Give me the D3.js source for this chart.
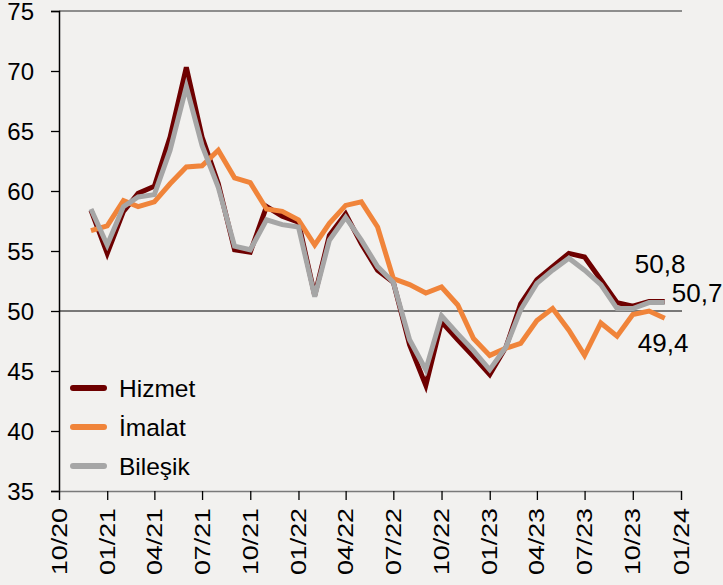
<!DOCTYPE html>
<html>
<head>
<meta charset="utf-8">
<script src="https://cdn.jsdelivr.net/npm/d3@7"></script>
<style>
  html, body { margin: 0; padding: 0; background: #F2F1EF; }
  svg { display: block; }
  text { font-family: "Liberation Sans", Arial, sans-serif; fill: #000; }
</style>
</head>
<body>
<svg id="chart" width="723" height="585"></svg>
<script>
// ---- Data (monthly, Dec 2020 – Dec 2023) ----
const startMonth = "2020-12";
const hizmet = [58.4, 54.8, 58.3, 59.8, 60.4, 64.5, 70.3, 64.5, 60.6, 55.1, 54.9, 58.7, 57.9,
                57.4, 51.3, 56.3, 58.1, 55.6, 53.4, 52.4, 47.2, 43.8, 49.1, 47.6, 46.2,
                44.7, 47.0, 50.6, 52.6, 53.7, 54.8, 54.5, 52.6, 50.7, 50.4, 50.8, 50.8];
const imalat = [56.7, 57.1, 59.2, 58.7, 59.1, 60.6, 62.0, 62.1, 63.4, 61.1, 60.7, 58.5, 58.3,
                57.6, 55.5, 57.3, 58.8, 59.1, 57.0, 52.7, 52.2, 51.5, 52.0, 50.5, 47.7,
                46.3, 46.9, 47.3, 49.2, 50.2, 48.4, 46.3, 49.0, 47.9, 49.7, 50.0, 49.4];
const bilesik = [58.5, 55.5, 58.7, 59.5, 59.7, 63.4, 68.7, 63.8, 60.3, 55.4, 55.1, 57.6, 57.2,
                 57.0, 51.2, 55.9, 57.8, 55.9, 53.7, 52.4, 47.6, 45.1, 49.6, 48.1, 46.7,
                 45.1, 47.0, 50.1, 52.3, 53.4, 54.4, 53.4, 52.2, 50.2, 50.2, 50.7, 50.7];
const seriesNames = ["Hizmet", "İmalat", "Bileşik"];
const yTicks = [35, 40, 45, 50, 55, 60, 65, 70, 75];
const xTickLabels = ["10/20","01/21","04/21","07/21","10/21","01/22","04/22","07/22","10/22","01/23","04/23","07/23","10/23","01/24"];
const endLabels = ["50,8", "50,7", "49,4"];

// ---- Layout ----
const svg = d3.select("#chart");
const plotL = 59, plotR = 681, plotT = 11, plotB = 491;
const colors = { "Hizmet": "#6E0000", "İmalat": "#F0843A", "Bileşik": "#A6A6A6" };

const parseM = d3.timeParse("%Y-%m");
const parseT = d3.timeParse("%m/%y");
const x = d3.scaleTime()
  .domain([parseT(xTickLabels[0]), parseT(xTickLabels[xTickLabels.length - 1])])
  .range([plotL, plotR]);
const y = d3.scaleLinear().domain([35, 75]).range([plotB, plotT]);

const start = parseM(startMonth);
const dates = hizmet.map((_, i) => d3.timeMonth.offset(start, i));

// top border line
svg.append("line").attr("x1", plotL).attr("x2", plotR + 1).attr("y1", y(75)).attr("y2", y(75))
  .attr("stroke", "#6d6d6d").attr("stroke-width", 1.3);
// 50 reference line
svg.append("line").attr("x1", plotL).attr("x2", plotR + 1).attr("y1", y(50)).attr("y2", y(50))
  .attr("stroke", "#000").attr("stroke-width", 1);

// Y axis
const yAxis = d3.axisLeft(y).tickValues(yTicks).tickSize(8).tickPadding(0).tickFormat(d3.format("d"));
const gy = svg.append("g").attr("transform", `translate(${plotL},0)`).call(yAxis);
gy.select(".domain").attr("stroke", "#000").attr("stroke-width", 1.5);
gy.selectAll(".tick line").attr("stroke", "#000").attr("stroke-width", 1.3);
gy.selectAll(".tick text").attr("x", -25).attr("dy", "0.36em")
  .style("font-size", "24px").attr("font-family", null).attr("text-anchor", "end").attr("fill", "#000");

// X axis
const xTickDates = xTickLabels.map(parseT);
const xAxis = d3.axisBottom(x).tickValues(xTickDates).tickSize(9).tickFormat((d, i) => xTickLabels[i]);
const gx = svg.append("g").attr("transform", `translate(0,${plotB})`).call(xAxis);
gx.select(".domain").attr("stroke", "#7a7a7a").attr("stroke-width", 1.3);
gx.selectAll(".tick line").attr("stroke", "#000").attr("stroke-width", 1.3);
gx.selectAll(".tick text")
  .attr("font-family", null)
  .style("font-size", "22px")
  .attr("text-anchor", "end")
  .attr("fill", "#000")
  .attr("x", 0).attr("y", 0).attr("dy", 0)
  .attr("transform", "translate(7,17) rotate(-90) scale(1.22,1)");

// Lines
const line = d3.line().x((d, i) => x(dates[i])).y(d => y(d));
[[hizmet, "Hizmet"], [imalat, "İmalat"], [bilesik, "Bileşik"]].forEach(([vals, name]) => {
  svg.append("path").datum(vals)
    .attr("d", line)
    .attr("fill", "none")
    .attr("stroke", colors[name])
    .attr("stroke-width", 5)
    .attr("stroke-linejoin", "miter");
});

// End labels
const lastX = x(dates[dates.length - 1]);
const endPos = [
  { t: endLabels[0], x: lastX - 30, y: 273 },
  { t: endLabels[1], x: lastX + 7, y: 302 },
  { t: endLabels[2], x: lastX - 27, y: 352 }
];
svg.selectAll(".endlab").data(endPos).enter().append("text")
  .attr("class", "endlab")
  .attr("x", d => d.x).attr("y", d => d.y)
  .style("font-size", "26px")
  .text(d => d.t);

// Legend
const legY = [388, 427, 466];
seriesNames.forEach((name, i) => {
  svg.append("line").attr("x1", 73).attr("x2", 104).attr("y1", legY[i]).attr("y2", legY[i])
    .attr("stroke", colors[name]).attr("stroke-width", 6).attr("stroke-linecap", "round");
  svg.append("text").attr("x", 119).attr("y", legY[i] + 8.5)
    .style("font-size", "24.5px").text(name);
});
</script>
</body>
</html>
